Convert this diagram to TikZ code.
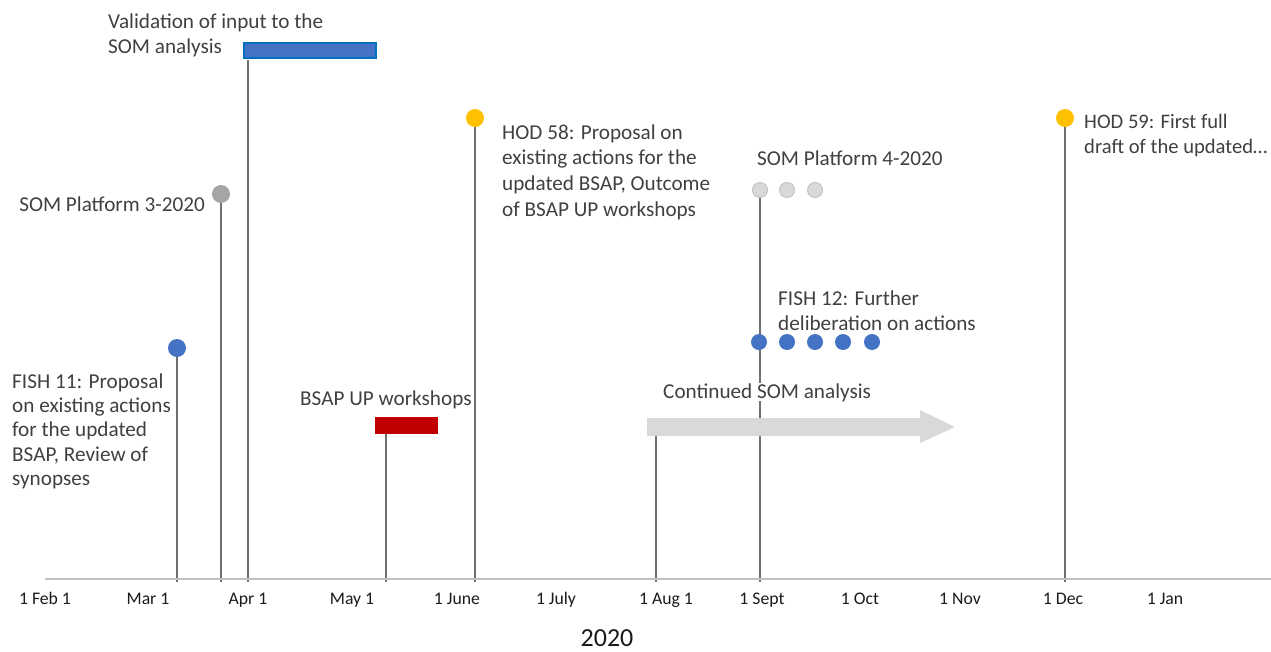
\documentclass[tikz,border=0pt]{standalone}
\usepackage{fontspec}
\setmainfont{Carlito}
\usetikzlibrary{calc}
\definecolor{txtgrey}{HTML}{404040}
\definecolor{tickblack}{HTML}{1A1A1A}
\definecolor{stemgrey}{HTML}{6F6F6F}
\definecolor{axisgrey}{HTML}{BFBFBF}
\definecolor{msblue}{HTML}{4472C4}
\definecolor{msblueedge}{HTML}{0070C0}
\definecolor{msyellow}{HTML}{FFC000}
\definecolor{msgrey}{HTML}{A5A5A5}
\definecolor{lightdot}{HTML}{D9D9D9}
\definecolor{lightdotedge}{HTML}{C3C3C3}
\definecolor{msred}{HTML}{C00000}
\definecolor{arrowgrey}{HTML}{D9D9D9}
\newcommand\mylines[1]{\begin{tabular}[t]{@{}l@{}}#1\end{tabular}}
\pgfdeclarelayer{bg}
\pgfsetlayers{bg,main}
\begin{document}
\begin{tikzpicture}[x=1pt,y=-1pt,
  lbl/.style={inner sep=0pt, text=txtgrey, font=\fontsize{21.2}{25.5}\selectfont},
  ticklbl/.style={inner sep=0pt, anchor=base, text=tickblack, font=\fontsize{17.7}{20}\selectfont},
  stemline/.style={draw=stemgrey, line width=1.5pt},
  axisline/.style={draw=axisgrey, line width=2pt},
  bigdot/.style={circle, inner sep=0pt, minimum size=18pt},
  smalldot/.style={circle, inner sep=0pt, minimum size=16pt},
  bluedot/.style={smalldot, fill=msblue},
  greydot/.style={smalldot, fill=lightdot, draw=lightdotedge, line width=1pt, minimum size=15pt}
]
\useasboundingbox (0,0) rectangle (1271,651);

% axis
\coordinate (axL) at (45,579);
\coordinate (axR) at (1271,579);
\draw[axisline] (axL) -- (axR);

% axis end points of stems
\coordinate (e1) at (177,582);
\coordinate (e2) at (221,582);
\coordinate (e3) at (248,582);
\coordinate (e4) at (386,582);
\coordinate (e5) at (475,582);
\coordinate (e6) at (656,582);
\coordinate (e7) at (760,582);
\coordinate (e8) at (1065,582);

% tick labels
\node[ticklbl] (t1) at (45,604) {1 Feb 1};
\node[ticklbl] (t2) at (148,604) {Mar 1};
\node[ticklbl] (t3) at (248,604) {Apr 1};
\node[ticklbl] (t4) at (352,604) {May 1};
\node[ticklbl] (t5) at (457,604) {1 June};
\node[ticklbl] (t6) at (556,604) {1 July};
\node[ticklbl] (t7) at (666,604) {1 Aug 1};
\node[ticklbl] (t8) at (762,604) {1 Sept};
\node[ticklbl] (t9) at (860,604) {1 Oct};
\node[ticklbl] (t10) at (960,604) {1 Nov};
\node[ticklbl] (t11) at (1063,604) {1 Dec};
\node[ticklbl] (t12) at (1165,604) {1 Jan};
\node[inner sep=0pt, anchor=base, text=tickblack, font=\fontsize{26}{30}\selectfont] (year) at (607,646) {2020};

% Validation of input
\node[lbl, anchor=base west] (valtxt) at (108,28) {\mylines{Validation of input to the\\SOM analysis}};
\node[draw=msblueedge, fill=msblue, line width=2pt, inner sep=0pt, minimum width=132pt, minimum height=15pt, anchor=north west] (valbar) at (243,42) {};
\coordinate (v1) at ($(valbar.south west)+(5,1)$);

% SOM Platform 3
\node[bigdot, fill=msgrey] (som3) at (221,194) {};
\node[lbl, anchor=base east] (som3txt) at (205,211) {SOM Platform 3-2020};

% FISH 11
\node[bigdot, fill=msblue] (fish11) at (177,348) {};
\node[lbl, anchor=base west, font=\fontsize{21.2}{24.4}\selectfont] (fish11txt) at (12,388) {\mylines{FISH 11: Proposal\\on existing actions\\for the updated\\BSAP, Review of\\synopses}};

% BSAP UP workshops
\node[lbl, anchor=base west] (bsaptxt) at (300,405) {BSAP UP workshops};
\node[fill=msred, inner sep=0pt, minimum width=63pt, minimum height=17pt, anchor=north west] (bsapbar) at (375,417) {};
\coordinate (b1) at (386,434);

% HOD 58
\node[bigdot, fill=msyellow] (hod58) at (475,118) {};
\node[lbl, anchor=base west, font=\fontsize{21.2}{25.7}\selectfont] (hod58txt) at (502,139) {\mylines{HOD 58: Proposal on\\existing actions for the\\updated BSAP, Outcome\\of BSAP UP workshops}};

% Continued SOM analysis
\node[lbl, anchor=base west, fill=white] (contxt) at (663,398) {Continued SOM analysis};
\path[fill=arrowgrey] (647,418) -- (920,418) -- (920,410) -- (955,427) -- (920,443) -- (920,436) -- (647,436) -- cycle;
\coordinate (c1) at (656,436);

% SOM Platform 4
\node[lbl, anchor=base west] (som4txt) at (757,165) {SOM Platform 4-2020};
\node[greydot] (s4a) at (760,190) {};
\node[greydot] (s4b) at (787,190) {};
\node[greydot] (s4c) at (815,190) {};

% FISH 12
\node[lbl, anchor=base west] (fish12txt) at (778,305) {\mylines{FISH 12: Further\\deliberation on actions}};
\node[bluedot] (f12a) at (759,342) {};
\node[bluedot] (f12b) at (787,342) {};
\node[bluedot] (f12c) at (815,342) {};
\node[bluedot] (f12d) at (843,342) {};
\node[bluedot] (f12e) at (872,342) {};

% HOD 59
\node[bigdot, fill=msyellow] (hod59) at (1065,118) {};
\node[lbl, anchor=base west, font=\fontsize{20.6}{25.5}\selectfont] (hod59txt) at (1084,128) {\mylines{HOD 59: First full\\draft of the updated…}};

% stems
\begin{pgfonlayer}{bg}
\draw[stemline] (fish11.center) -- (e1);
\draw[stemline] (som3.center) -- (e2);
\draw[stemline] (v1) -- (e3);
\draw[stemline] (b1) -- (e4);
\draw[stemline] (hod58.center) -- (e5);
\draw[stemline] (c1) -- (e6);
\draw[stemline] (s4a.center) -- (e7);
\draw[stemline] (hod59.center) -- (e8);
\end{pgfonlayer}
\end{tikzpicture}
\end{document}
